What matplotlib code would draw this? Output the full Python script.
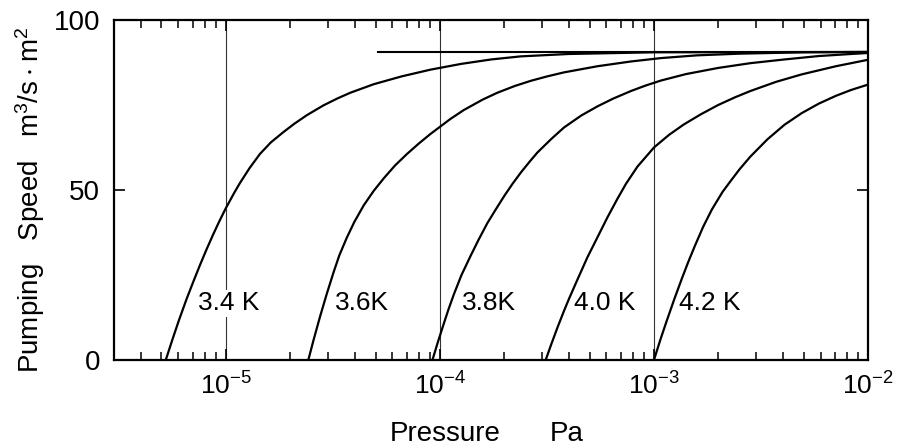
import numpy as np
import matplotlib
matplotlib.use("Agg")
from matplotlib import pyplot as plt
from matplotlib.ticker import LogLocator, NullFormatter

plt.rcParams['font.family'] = ['Liberation Sans Narrow', 'Liberation Sans', 'DejaVu Sans']
plt.rcParams['mathtext.default'] = 'regular'

# pumping speed curves (log10 of pressure in Pa, speed in m3/s.m2)
logp_34 = [-5.281, -5.250, -5.220, -5.184, -5.150, -5.122, -5.090, -5.059, -5.030, -5.000,
           -4.960, -4.934, -4.890, -4.841, -4.790, -4.732, -4.680, -4.622, -4.544, -4.480,
           -4.419, -4.310, -4.180, -4.044, -3.900, -3.760, -3.623, -3.400, -3.000, -2.000]
s_34 = [0, 6.0, 11.6, 17.9, 23.4, 27.8, 32.6, 37.0, 40.9, 44.7,
        49.3, 52.1, 56.4, 60.6, 64.0, 67.0, 69.5, 72.0, 74.9, 76.9,
        78.6, 81.1, 83.4, 85.4, 87.1, 88.4, 89.3, 90.0, 90.5, 90.6]

logp_36 = [-4.615, -4.590, -4.560, -4.530, -4.497, -4.470, -4.435, -4.400, -4.356, -4.310,
           -4.263, -4.210, -4.154, -4.100, -4.044, -3.951, -3.889, -3.800, -3.732, -3.650,
           -3.576, -3.500, -3.420, -3.264, -3.108, -2.967, -2.800, -2.600, -2.300, -2.000]
s_36 = [0, 6.0, 12.8, 19.2, 25.8, 30.8, 36.0, 40.6, 45.5, 49.7,
        53.4, 57.2, 60.6, 63.6, 66.5, 70.9, 73.5, 76.6, 78.6, 80.6,
        82.1, 83.4, 84.6, 86.4, 87.8, 88.8, 89.6, 90.1, 90.5, 90.6]

logp_38 = [-4.035, -4.010, -3.982, -3.960, -3.935, -3.900, -3.857, -3.820, -3.779, -3.740,
           -3.700, -3.660, -3.620, -3.580, -3.545, -3.480, -3.420, -3.340, -3.264, -3.190,
           -3.108, -3.040, -2.967, -2.850, -2.700, -2.550, -2.390, -2.230, -2.080, -2.000]
s_38 = [0, 5.2, 10.7, 14.9, 19.3, 24.9, 30.6, 35.3, 40.2, 44.2,
        48.2, 51.9, 55.3, 58.4, 61.0, 65.0, 68.4, 71.9, 74.6, 76.9,
        79.1, 80.7, 82.2, 84.1, 85.9, 87.3, 88.4, 89.4, 90.0, 90.3]

logp_40 = [-3.506, -3.480, -3.450, -3.420, -3.397, -3.360, -3.311, -3.260, -3.217, -3.170,
           -3.131, -3.077, -3.000, -2.930, -2.860, -2.780, -2.700, -2.620, -2.550, -2.430,
           -2.310, -2.150, -2.000]
s_40 = [0, 4.6, 9.7, 14.5, 18.0, 23.3, 30.2, 36.6, 42.0, 47.5,
        51.8, 56.9, 62.5, 66.2, 69.3, 72.3, 75.0, 77.3, 79.1, 81.8,
        84.0, 86.4, 88.3]

logp_42 = [-3.000, -2.970, -2.940, -2.905, -2.870, -2.840, -2.810, -2.770, -2.730, -2.680,
           -2.640, -2.600, -2.550, -2.470, -2.390, -2.310, -2.230, -2.150, -2.080, -2.000]
s_42 = [0, 6.0, 11.6, 17.9, 23.9, 28.8, 33.4, 39.2, 44.2, 49.4,
        52.8, 56.1, 59.8, 64.9, 69.2, 72.6, 75.4, 77.7, 79.4, 81.0]

curves = [(logp_34, s_34), (logp_36, s_36), (logp_38, s_38), (logp_40, s_40), (logp_42, s_42)]

labels = ['3.4 K', '3.6K', '3.8K', '4.0 K', '4.2 K']
label_logp = [-5.131, -4.489, -3.896, -3.373, -2.881]
label_s = 14.6

# upper limit line
limit_p = [5.15e-5, 1e-2]
limit_s = 90.6

grid_p = [1e-5, 1e-4, 1e-3]

fig = plt.figure(figsize=(8.99, 4.48), dpi=100)
ax = fig.add_axes([114/899, 88/448, 754/899, 340/448])

for logp, s in curves:
    ax.plot(10.0 ** np.array(logp), s, 'k-', lw=1.6, solid_joinstyle='round', zorder=3)

ax.plot(limit_p, [limit_s, limit_s], 'k-', lw=1.5, zorder=3)

for p in grid_p:
    ax.axvline(p, color='#333333', lw=0.8, zorder=1)

# labels sit on a white patch so the thin verticals break behind them
for lab, lp in zip(labels, label_logp):
    ax.text(10.0 ** lp, label_s, lab, ha='left', va='baseline', fontsize=19, zorder=2,
            bbox=dict(facecolor='white', edgecolor='none', pad=1.0))

ax.set_xscale('log')
ax.set_xlim(3e-6, 1e-2)
ax.set_ylim(0, 100)
ax.set_yticks([0, 50, 100])
ax.set_xticks([1e-5, 1e-4, 1e-3, 1e-2])
ax.set_xticklabels(['$10^{-5}$', '$10^{-4}$', '$10^{-3}$', '$10^{-2}$'])
ax.xaxis.set_minor_locator(LogLocator(base=10, subs=np.arange(2, 10), numticks=20))
ax.xaxis.set_minor_formatter(NullFormatter())

ax.tick_params(which='both', direction='in', top=True, right=True)
ax.tick_params(which='major', length=8, width=1.2)
ax.tick_params(which='minor', length=6, width=1.1)
ax.tick_params(axis='y', labelsize=20, pad=10)
ax.tick_params(axis='x', labelsize=19, pad=9)

for sp in ax.spines.values():
    sp.set_linewidth(1.6)

fig.text(30/899, 1 - 200/448, 'Pumping   Speed   $m^3/s \\cdot m^2$',
         rotation=90, ha='center', va='center', fontsize=20)
fig.text(390/899, 0.003, 'Pressure', ha='left', va='bottom', fontsize=20)
fig.text(550/899, 0.003, 'Pa', ha='left', va='bottom', fontsize=20)

fig.savefig('out.png', dpi=100, facecolor='white')
